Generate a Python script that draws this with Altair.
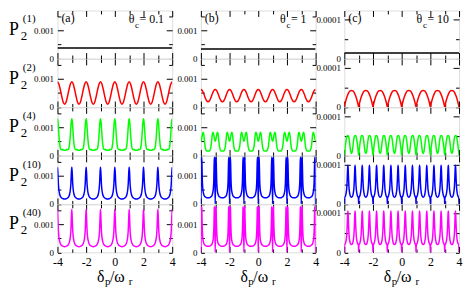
import altair as alt
import pandas as pd

FONT = "Liberation Serif"
W, H = 116, 48.5

# ---- axes / labels -------------------------------------------------------
X_TICKS = [-4, -3, -2, -1, 0, 1, 2, 3, 4]
X_LABELS = [-4, -2, 0, 2, 4]
PERIODS = [-4, -3, -2, -1, 0, 1, 2, 3]          # the curves repeat with period 1 in x
COL_IDS = ["(a)", "(b)", "(c)"]
THETA_VALUES = ["= 0.1", "= 1", "= 10"]
ROW_SUPERS = ["(1)", "(2)", "(4)", "(10)", "(40)"]
COLORS = ["#000000", "#ff0000", "#00ff00", "#0000ff", "#ff00ff"]
Y_MAX = [0.0017, 0.0017, 0.000122]
Y_TICKS = [[0, 0.0005, 0.001, 0.0015], [0, 0.0005, 0.001, 0.0015], [0, 0.00005, 0.0001]]
Y_MAJOR = [0.001, 0.001, 0.0001]

# ---- row 1: flat P2(1) levels --------------------------------------------
P1_X = [-4, 4]
P1_LEVEL = [0.000374, 0.00034, 0.0000139]

# ---- one period (offset from the integer, value) --------------------------
RED_A_OFF = [0, .1, .2, .3, .4, .5, .6, .7, .8, .9]
RED_A_VAL = [8.9e-4, 8.1e-4, 6.1e-4, 3.7e-4, 1.7e-4, 1.0e-4, 1.7e-4, 3.7e-4, 6.1e-4, 8.1e-4]
RED_B_OFF = [0, .1, .2, .3, .4, .5, .6, .7, .8, .9]
RED_B_VAL = [6.2e-4, 5.8e-4, 4.7e-4, 3.3e-4, 2.2e-4, 1.8e-4, 2.2e-4, 3.3e-4, 4.7e-4, 5.8e-4]
RED_C_OFF = [0, .05, .1, .2, .3, .4, .5, .6, .7, .8, .9, .95]
RED_C_VAL = [0, 0.8e-5, 1.5e-5, 2.7e-5, 3.6e-5, 4.1e-5, 4.2e-5, 4.1e-5, 3.6e-5, 2.7e-5, 1.5e-5, 0.8e-5]

GREEN_A_OFF = [0, .04, .08, .12, .16, .2, .25, .3, .35, .4, .5, .6, .65, .7, .75, .8, .84, .88, .92, .96]
GREEN_A_VAL = [1.30e-3, 1.18e-3, 0.90e-3, 0.60e-3, 0.38e-3, 0.26e-3, 0.21e-3, 0.20e-3, 0.22e-3, 0.19e-3,
               0.18e-3, 0.19e-3, 0.22e-3, 0.20e-3, 0.21e-3, 0.26e-3, 0.38e-3, 0.60e-3, 0.90e-3, 1.18e-3]
GREEN_B_OFF = [0, .05, .1, .15, .2, .25, .3, .35, .4, .5, .6, .65, .7, .75, .8, .85, .9, .95]
GREEN_B_VAL = [0.50e-3, 0.58e-3, 0.72e-3, 0.82e-3, 0.76e-3, 0.52e-3, 0.30e-3, 0.20e-3, 0.16e-3,
               0.16e-3, 0.16e-3, 0.20e-3, 0.30e-3, 0.52e-3, 0.76e-3, 0.82e-3, 0.72e-3, 0.58e-3]
GREEN_C_OFF = [0, .05, .1, .15, .2, .25, .3, .35, .4, .45, .5, .55, .6, .65, .7, .75, .8, .85, .9, .95]
GREEN_C_VAL = [0, 1.7e-5, 3.2e-5, 4.4e-5, 5.0e-5, 5.1e-5, 4.8e-5, 3.8e-5, 2.2e-5, 0.9e-5,
               0.5e-5, 0.9e-5, 2.2e-5, 3.8e-5, 4.8e-5, 5.1e-5, 5.0e-5, 4.4e-5, 3.2e-5, 1.7e-5]

BLUE_A_OFF = [0, .03, .06, .1, .15, .2, .3, .4, .5, .6, .7, .8, .85, .9, .94, .97]
BLUE_A_VAL = [1.30e-3, 1.10e-3, 0.75e-3, 0.50e-3, 0.35e-3, 0.27e-3, 0.21e-3, 0.18e-3,
              0.17e-3, 0.18e-3, 0.21e-3, 0.27e-3, 0.35e-3, 0.50e-3, 0.75e-3, 1.10e-3]
BLUE_B_OFF = [0, .02, .04, .06, .08, .1, .13, .17, .22, .3, .4, .5, .6, .7, .78, .83, .87, .9, .92, .94, .96, .98]
BLUE_B_VAL = [0, 0.9e-3, 1.55e-3, 1.65e-3, 1.30e-3, 0.85e-3, 0.55e-3, 0.40e-3, 0.31e-3, 0.25e-3, 0.22e-3,
              0.22e-3, 0.22e-3, 0.25e-3, 0.31e-3, 0.40e-3, 0.55e-3, 0.85e-3, 1.30e-3, 1.65e-3, 1.55e-3, 0.9e-3]
BLUE_C_OFF = [0, .01, .03, .08, .13, .17, .2, .23, .25, .27, .3, .33, .37, .42, .5,
              .58, .63, .67, .7, .73, .75, .77, .8, .83, .87, .92, .97, .99]
BLUE_C_VAL = [0, 1.2e-5, 1.7e-5, 2.0e-5, 2.8e-5, 4.0e-5, 6.0e-5, 8.8e-5, 9.8e-5, 8.8e-5, 6.0e-5, 4.0e-5, 2.8e-5,
              2.0e-5, 1.7e-5, 2.0e-5, 2.8e-5, 4.0e-5, 6.0e-5, 8.8e-5, 9.8e-5, 8.8e-5, 6.0e-5, 4.0e-5,
              2.8e-5, 2.0e-5, 1.7e-5, 1.2e-5]

MAGENTA_A_OFF = [0, .03, .06, .1, .15, .2, .3, .4, .5, .6, .7, .8, .85, .9, .94, .97]
MAGENTA_A_VAL = [1.53e-3, 1.22e-3, 0.82e-3, 0.55e-3, 0.40e-3, 0.31e-3, 0.24e-3, 0.21e-3,
                 0.20e-3, 0.21e-3, 0.24e-3, 0.31e-3, 0.40e-3, 0.55e-3, 0.82e-3, 1.22e-3]
MAGENTA_B_OFF = [0, .02, .04, .06, .08, .1, .13, .17, .22, .3, .4, .5, .6, .7, .78, .83, .87, .9, .92, .94, .96, .98]
MAGENTA_B_VAL = [0, 1.0e-3, 1.62e-3, 1.60e-3, 1.20e-3, 0.80e-3, 0.52e-3, 0.38e-3, 0.30e-3, 0.25e-3, 0.22e-3,
                 0.22e-3, 0.22e-3, 0.25e-3, 0.30e-3, 0.38e-3, 0.52e-3, 0.80e-3, 1.20e-3, 1.60e-3, 1.62e-3, 1.0e-3]
MAGENTA_C_OFF = BLUE_C_OFF
MAGENTA_C_VAL = [0, 1.4e-5, 2.0e-5, 2.3e-5, 3.1e-5, 4.4e-5, 6.5e-5, 9.5e-5, 1.05e-4, 9.5e-5, 6.5e-5, 4.4e-5, 3.1e-5,
                 2.3e-5, 2.0e-5, 2.3e-5, 3.1e-5, 4.4e-5, 6.5e-5, 9.5e-5, 1.05e-4, 9.5e-5, 6.5e-5, 4.4e-5,
                 3.1e-5, 2.3e-5, 2.0e-5, 1.4e-5]

PROFILES = {
    (1, 0): (RED_A_OFF, RED_A_VAL), (1, 1): (RED_B_OFF, RED_B_VAL), (1, 2): (RED_C_OFF, RED_C_VAL),
    (2, 0): (GREEN_A_OFF, GREEN_A_VAL), (2, 1): (GREEN_B_OFF, GREEN_B_VAL), (2, 2): (GREEN_C_OFF, GREEN_C_VAL),
    (3, 0): (BLUE_A_OFF, BLUE_A_VAL), (3, 1): (BLUE_B_OFF, BLUE_B_VAL), (3, 2): (BLUE_C_OFF, BLUE_C_VAL),
    (4, 0): (MAGENTA_A_OFF, MAGENTA_A_VAL), (4, 1): (MAGENTA_B_OFF, MAGENTA_B_VAL),
    (4, 2): (MAGENTA_C_OFF, MAGENTA_C_VAL),
}


def curve_df(r, c):
    if r == 0:
        return pd.DataFrame({"x": P1_X, "y": [P1_LEVEL[c]] * len(P1_X)})
    offs, vals = PROFILES[(r, c)]
    xs, ys = [], []
    for k in PERIODS:
        for o, v in zip(offs, vals):
            xs.append(k + o)
            ys.append(v)
    xs.append(PERIODS[-1] + 1)
    ys.append(vals[0])
    return pd.DataFrame({"x": xs, "y": ys})


def text_layer(s, x, y, size, align="left"):
    return alt.Chart(pd.DataFrame({"t": [s]})).mark_text(
        font=FONT, fontSize=size, align=align, baseline="alphabetic", color="black"
    ).encode(text="t:N", x=alt.value(x), y=alt.value(y))


def make_panel(r, c):
    df = curve_df(r, c)
    xs = alt.Scale(domain=[-4, 4], nice=False, zero=False)
    ys = alt.Scale(domain=[0, Y_MAX[c]], nice=False, zero=False)
    major = Y_MAJOR[c]
    xsize = {"condition": {"test": "datum.value % 2 === 0", "value": 6}, "value": 3.5}
    ysize = {"condition": {"test": f"abs(datum.value - {major}) < {major / 100}", "value": 6}, "value": 3.5}
    common = dict(labels=False, domain=False, grid=False, title=None, ticks=True,
                  tickColor="black", tickWidth=1)
    base = alt.Chart(df)
    line = base.mark_line(color=COLORS[r], strokeWidth=1.5, interpolate="monotone", clip=True).encode(
        x=alt.X("x:Q", scale=xs, axis=alt.Axis(orient="top", offset=-H, values=X_TICKS, tickSize=xsize, **common)),
        y=alt.Y("y:Q", scale=ys, axis=alt.Axis(orient="right", offset=-W, values=Y_TICKS[c], tickSize=ysize, **common)),
    )
    mirror = base.mark_line(opacity=0).encode(
        x=alt.X("x:Q", scale=xs, axis=alt.Axis(orient="bottom", offset=-H, values=X_TICKS, tickSize=xsize, **common)),
        y=alt.Y("y:Q", scale=ys, axis=alt.Axis(orient="left", offset=-W, values=Y_TICKS[c], tickSize=ysize, **common)),
    )
    if r == 4:
        xlab = alt.Axis(orient="bottom", values=X_LABELS, ticks=False, tickSize=0, domain=False, grid=False,
                        title=None, labelExpr="'' + datum.value", labelFont=FONT, labelFontSize=12,
                        labelPadding=4, labelColor="black", labelFlush=False)
    else:
        xlab = None
    labels = base.mark_line(opacity=0).encode(
        x=alt.X("x:Q", scale=xs, axis=xlab),
        y=alt.Y("y:Q", scale=ys, axis=alt.Axis(orient="left", values=[0, major], ticks=False, tickSize=0,
                                               domain=False, grid=False, title=None,
                                               labelExpr="'' + datum.value", labelFont=FONT, labelFontSize=9,
                                               labelPadding=4, labelColor="black", labelFlush=False)),
    )
    layers = [line, mirror, labels]
    if c == 0:
        layers += [text_layer("P", -49, 25, 18), text_layer("2", -37, 30, 13),
                   text_layer(ROW_SUPERS[r], -35, 12, 11)]
    if r == 0:
        x0 = {0: W - 44, 1: W - 36, 2: W - 43}[c]
        layers += [text_layer(COL_IDS[c], 4, 12, 12),
                   text_layer("θ", x0, 13, 12), text_layer("c", x0 + 6.5, 18, 9),
                   text_layer(THETA_VALUES[c], x0 + 11, 13, 12)]
    if r == 4:
        cx = W / 2
        layers += [text_layer("δ", cx - 18, H + 30, 16), text_layer("p", cx - 10, H + 33, 11),
                   text_layer("/ω", cx - 5, H + 30, 16), text_layer("r", cx + 14, H + 33, 11)]
    return alt.layer(*layers).resolve_axis(x="independent", y="independent").properties(width=W, height=H)


panels = [make_panel(r, c) for r in range(5) for c in range(3)]
chart = alt.concat(*panels, columns=3, spacing={"row": 0, "column": 29}, bounds="flush").properties(padding=0)
chart = chart.configure_view(stroke="black", strokeWidth=1).configure(font=FONT)
chart.save("out.html", embed_options={"renderer": "svg", "actions": False})
